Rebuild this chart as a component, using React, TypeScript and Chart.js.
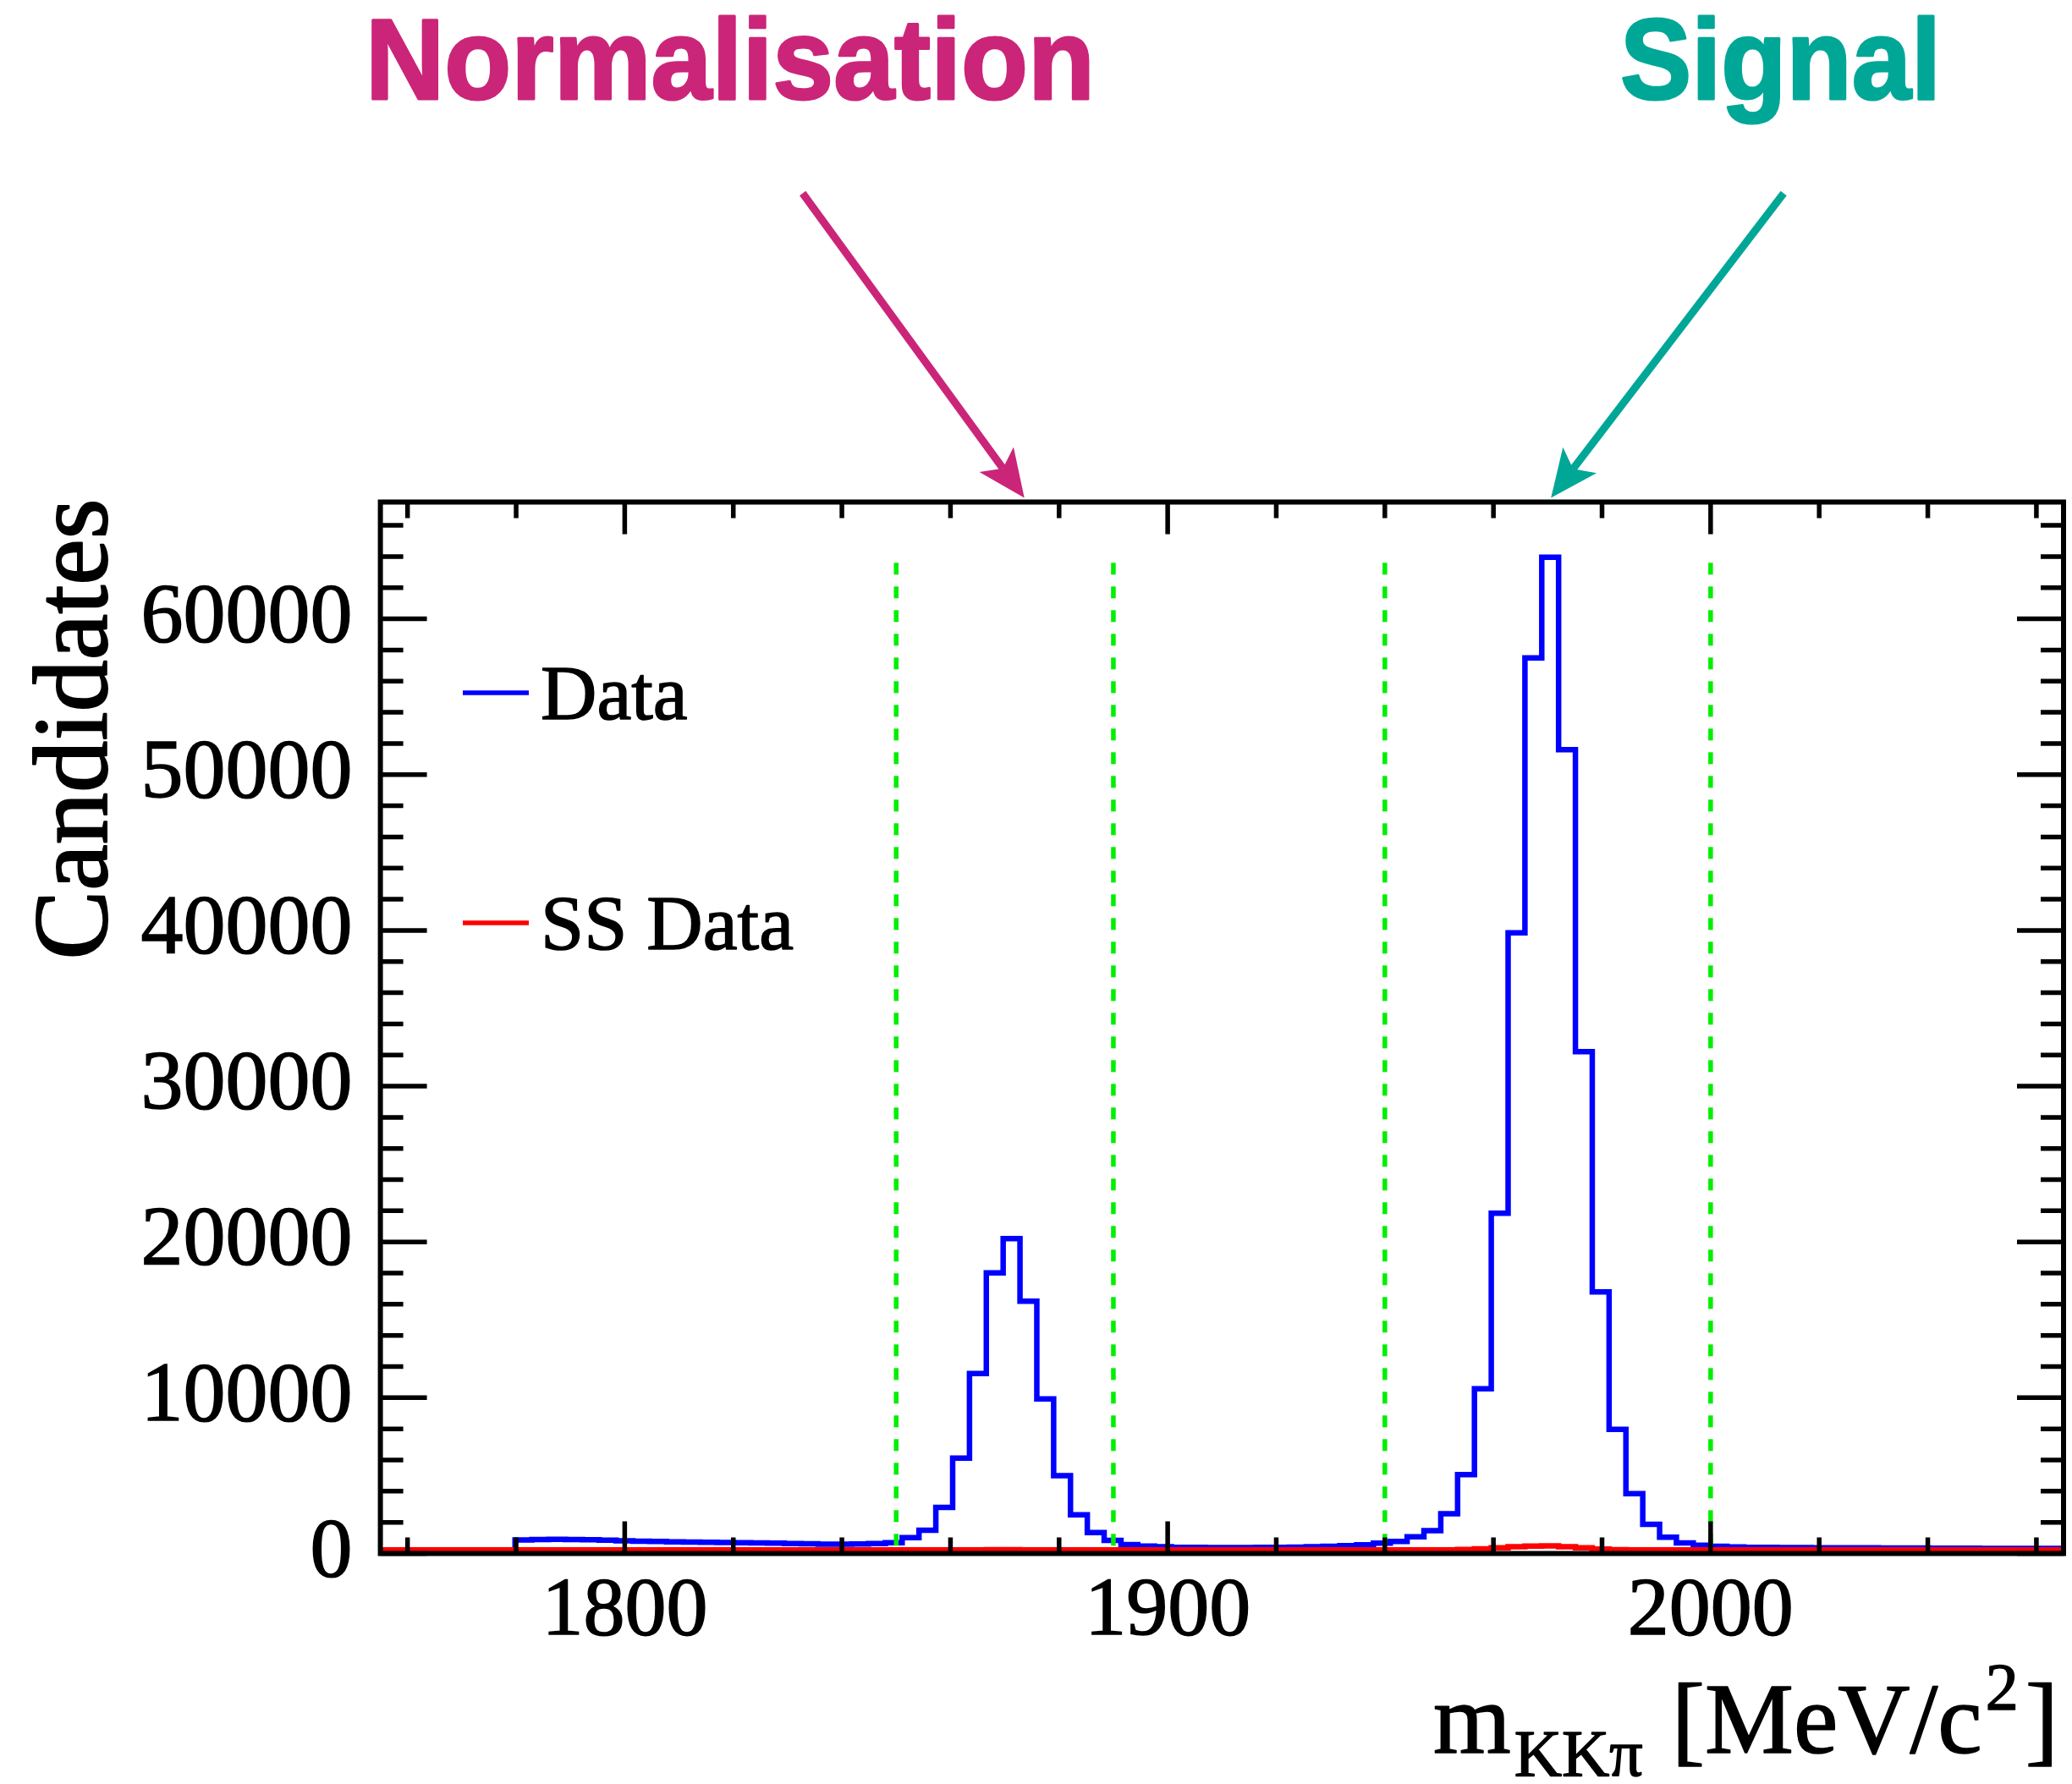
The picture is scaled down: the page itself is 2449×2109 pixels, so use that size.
import React, { useEffect, useRef } from "react";
import { Chart, registerables } from "chart.js";

Chart.register(...registerables);

const W = 2449;
const H = 2109;

// Histogram binning: 100 bins of 3.1 MeV/c^2 from 1755 to 2065
const BIN_LOW = 1755;
const BIN_WIDTH = 3.1;
const X_MIN = 1755;
const X_MAX = 2065;
const Y_MIN = 0;
const Y_MAX = 67500;

const X_TICKS = [1800, 1900, 2000];
const Y_TICKS = [0, 10000, 20000, 30000, 40000, 50000, 60000];
const X_MINOR_STEP = 20;
const X_MAJOR_STEP = 100;
const Y_MINOR_STEP = 2000;
const Y_MAJOR_STEP = 10000;

// Opposite-sign candidates per bin
const DATA_COUNTS = [
  0, 0, 0, 0, 0, 0, 0, 0,
  870, 900, 910, 900, 880, 850, 820, 790,
  770, 750, 730, 720, 700, 690, 680, 660,
  640, 620, 600, 600, 610, 640, 690, 1020,
  1490, 2960, 6120, 11550, 18020, 20220, 16200, 9930,
  5000, 2480, 1340, 840, 570, 480, 430, 400,
  390, 380, 380, 380, 390, 400, 410, 430,
  460, 500, 560, 660, 770, 1070, 1470, 2550,
  5070, 10580, 21850, 39850, 57500, 63950, 51600, 32220,
  16790, 7970, 3840, 1880, 1040, 680, 530, 460,
  420, 400, 390, 380, 380, 370, 370, 360,
  360, 350, 350, 350, 340, 340, 340, 330,
  330, 330, 320, 320,
];

// Same-sign candidates per bin
const SS_COUNTS = [
  230, 230, 230, 230, 230, 230, 230, 230,
  230, 230, 230, 230, 230, 230, 230, 230,
  230, 230, 230, 230, 230, 230, 230, 230,
  230, 230, 230, 230, 230, 230, 230, 230,
  230, 230, 230, 230, 240, 240, 230, 230,
  230, 230, 230, 230, 230, 230, 230, 230,
  230, 230, 230, 230, 230, 230, 230, 230,
  230, 230, 230, 230, 230, 230, 230, 230,
  260, 300, 360, 430, 480, 490, 440, 360,
  290, 250, 230, 230, 230, 230, 230, 230,
  230, 230, 230, 230, 230, 230, 230, 230,
  230, 230, 230, 230, 230, 230, 230, 230,
  230, 230, 230, 230,
];

// Mass window boundaries
const CUT_LINES = [1850, 1890, 1940, 2000];
const CUT_TOP = 63600;

// Annotation labels and where their arrows point on the mass axis
const ANNOTATION_LABELS = ["Normalisation", "Signal"];
const ANNOTATION_COLORS = ["#CB2579", "#00A797"];
const ARROW_TIPS = [1873.6, 1970.6];

const SERIF = "'Liberation Serif', 'Times New Roman', serif";
const SANS = "'Liberation Sans', Arial, Helvetica, sans-serif";

function toSteps(counts: number[]) {
  const pts = counts.map((c, i) => ({ x: BIN_LOW + i * BIN_WIDTH, y: c }));
  pts.push({ x: BIN_LOW + counts.length * BIN_WIDTH, y: counts[counts.length - 1] });
  return pts;
}

function drawArrow(
  ctx: CanvasRenderingContext2D,
  x0: number,
  y0: number,
  x1: number,
  y1: number,
  color: string
) {
  const dx = x1 - x0;
  const dy = y1 - y0;
  const len = Math.hypot(dx, dy);
  const ux = dx / len;
  const uy = dy / len;
  const px = -uy;
  const py = ux;
  const headLen = 56;
  const headHalf = 25;
  const notch = 13;
  const bx = x1 - ux * headLen;
  const by = y1 - uy * headLen;
  ctx.save();
  ctx.strokeStyle = color;
  ctx.fillStyle = color;
  ctx.lineWidth = 9;
  ctx.lineCap = "butt";
  ctx.beginPath();
  ctx.moveTo(x0, y0);
  ctx.lineTo(bx + ux * notch, by + uy * notch);
  ctx.stroke();
  ctx.beginPath();
  ctx.moveTo(x1, y1);
  ctx.lineTo(bx + px * headHalf, by + py * headHalf);
  ctx.lineTo(bx + ux * notch, by + uy * notch);
  ctx.lineTo(bx - px * headHalf, by - py * headHalf);
  ctx.closePath();
  ctx.fill();
  ctx.restore();
}

function heavyText(ctx: CanvasRenderingContext2D, t: string, x: number, y: number, stroke: number, maxW?: number) {
  ctx.lineWidth = stroke;
  ctx.lineJoin = "round";
  if (maxW !== undefined) {
    ctx.fillText(t, x, y, maxW);
    if (stroke > 0) ctx.strokeText(t, x, y, maxW);
  } else {
    ctx.fillText(t, x, y);
    if (stroke > 0) ctx.strokeText(t, x, y);
  }
}

const framePlugin = {
  id: "rootFrame",
  afterDatasetsDraw(chart: any) {
    const { ctx, chartArea } = chart;
    const xs = chart.scales.x;
    const ys = chart.scales.y;
    const { left, right, top, bottom } = chartArea;
    ctx.save();
    ctx.strokeStyle = "#000";
    ctx.lineWidth = 5.5;
    ctx.lineCap = "butt";
    // ticks on all four sides, pointing inwards
    for (let v = Math.ceil(X_MIN / X_MINOR_STEP) * X_MINOR_STEP; v <= X_MAX; v += X_MINOR_STEP) {
      const px = xs.getPixelForValue(v);
      const len = v % X_MAJOR_STEP === 0 ? 38 : 19;
      ctx.beginPath();
      ctx.moveTo(px, bottom);
      ctx.lineTo(px, bottom - len);
      ctx.moveTo(px, top);
      ctx.lineTo(px, top + len);
      ctx.stroke();
    }
    for (let v = Y_MIN; v <= Y_MAX; v += Y_MINOR_STEP) {
      const py = ys.getPixelForValue(v);
      const len = v % Y_MAJOR_STEP === 0 ? 55 : 27;
      ctx.beginPath();
      ctx.moveTo(left, py);
      ctx.lineTo(left + len, py);
      ctx.moveTo(right, py);
      ctx.lineTo(right - len, py);
      ctx.stroke();
    }
    ctx.lineWidth = 6;
    ctx.strokeRect(left, top, right - left, bottom - top);
    ctx.restore();
  },
  afterDraw(chart: any) {
    const { ctx, chartArea } = chart;
    const xs = chart.scales.x;
    ctx.save();

    // y-axis title, aligned with the top of the frame
    ctx.fillStyle = "#000";
    ctx.strokeStyle = "#000";
    ctx.font = `124px ${SERIF}`;
    ctx.textBaseline = "alphabetic";
    ctx.translate(126, chartArea.top - 4);
    ctx.rotate(-Math.PI / 2);
    ctx.textAlign = "right";
    heavyText(ctx, "Candidates", 0, 0, 2, 545);
    ctx.setTransform(1, 0, 0, 1, 0, 0);

    // x-axis title with sub- and superscripts
    const pieces = [
      { t: "m", size: 118, dy: 0, gap: 4 },
      { t: "KK\u03c0", size: 78, dy: 27, gap: 34 },
      { t: "[MeV/c", size: 118, dy: 0, gap: 4 },
      { t: "2", size: 78, dy: -52, gap: 8 },
      { t: "]", size: 118, dy: 0, gap: 0 },
    ];
    let total = 0;
    const widths = pieces.map((p) => {
      ctx.font = `${p.size}px ${SERIF}`;
      const w = ctx.measureText(p.t).width;
      total += w + p.gap;
      return w;
    });
    let cx = chartArea.right - 6 - total;
    const base = 2072;
    ctx.textAlign = "left";
    pieces.forEach((p, i) => {
      ctx.font = `${p.size}px ${SERIF}`;
      heavyText(ctx, p.t, cx, base + p.dy, 1.5);
      cx += widths[i] + p.gap;
    });

    // legend
    const legendRows = [
      { ds: chart.data.datasets[0], y: 819 },
      { ds: chart.data.datasets[1], y: 1091 },
    ];
    legendRows.forEach((row) => {
      ctx.strokeStyle = row.ds.borderColor;
      ctx.lineWidth = 5.5;
      ctx.beginPath();
      ctx.moveTo(547, row.y);
      ctx.lineTo(625, row.y);
      ctx.stroke();
      ctx.fillStyle = "#000";
      ctx.strokeStyle = "#000";
      ctx.font = `92px ${SERIF}`;
      ctx.textAlign = "left";
      ctx.textBaseline = "alphabetic";
      heavyText(ctx, row.ds.label, 639, row.y + 31, 1.5);
    });

    // annotation labels and arrows
    ctx.font = `bold 136px ${SANS}`;
    ctx.textAlign = "left";
    ctx.fillStyle = ANNOTATION_COLORS[0];
    ctx.strokeStyle = ANNOTATION_COLORS[0];
    heavyText(ctx, ANNOTATION_LABELS[0], 432, 117, 3, 862);
    ctx.fillStyle = ANNOTATION_COLORS[1];
    ctx.strokeStyle = ANNOTATION_COLORS[1];
    heavyText(ctx, ANNOTATION_LABELS[1], 1915, 117, 3, 379);

    const tipY = chartArea.top - 5;
    const t0 = xs.getPixelForValue(ARROW_TIPS[0]);
    const t1 = xs.getPixelForValue(ARROW_TIPS[1]);
    drawArrow(ctx, t0 - 262, tipY - 360, t0, tipY, ANNOTATION_COLORS[0]);
    drawArrow(ctx, t1 + 275, tipY - 360, t1, tipY, ANNOTATION_COLORS[1]);

    ctx.restore();
  },
};

export default function App() {
  const ref = useRef<HTMLCanvasElement>(null);

  useEffect(() => {
    document.body.style.margin = "0";
    const canvas = ref.current;
    if (!canvas) return;

    const cutSets = CUT_LINES.map((x) => ({
      label: `cut ${x}`,
      data: [
        { x, y: CUT_TOP },
        { x, y: 0 },
      ],
      borderColor: "#00ee00",
      borderWidth: 5.5,
      borderDash: [14, 14],
      pointRadius: 0,
      fill: false,
      order: 1,
    }));

    const chart = new Chart(canvas, {
      type: "line",
      data: {
        datasets: [
          {
            label: "Data",
            data: toSteps(DATA_COUNTS),
            borderColor: "#0000ff",
            borderWidth: 6.5,
            stepped: "before",
            pointRadius: 0,
            fill: false,
            borderJoinStyle: "miter",
            order: 3,
          },
          {
            label: "SS Data",
            data: toSteps(SS_COUNTS),
            borderColor: "#ff0000",
            borderWidth: 6.5,
            stepped: "before",
            pointRadius: 0,
            fill: false,
            borderJoinStyle: "miter",
            order: 2,
          },
          ...cutSets,
        ] as any,
      },
      options: {
        animation: false,
        responsive: false,
        devicePixelRatio: 1,
        layout: { padding: { left: 0, right: 10, top: 593.5, bottom: 72.5 } },
        plugins: {
          legend: { display: false },
          tooltip: { enabled: false },
        },
        scales: {
          x: {
            type: "linear",
            min: X_MIN,
            max: X_MAX,
            grid: { display: false, drawTicks: false },
            border: { display: false },
            afterBuildTicks: (scale: any) => {
              scale.ticks = X_TICKS.map((v) => ({ value: v }));
            },
            afterFit: (scale: any) => {
              scale.height = 200;
            },
            ticks: {
              autoSkip: false,
              maxRotation: 0,
              padding: 11,
              color: "#000",
              textStrokeColor: "#000",
              textStrokeWidth: 1.5,
              font: { family: SERIF, size: 98 },
              callback: (v: any) => String(v),
            },
          },
          y: {
            type: "linear",
            min: Y_MIN,
            max: Y_MAX,
            grid: { display: false, drawTicks: false },
            border: { display: false },
            afterBuildTicks: (scale: any) => {
              scale.ticks = Y_TICKS.map((v) => ({ value: v }));
            },
            afterFit: (scale: any) => {
              scale.width = 449.6;
            },
            ticks: {
              autoSkip: false,
              padding: 33,
              color: "#000",
              textStrokeColor: "#000",
              textStrokeWidth: 1.5,
              font: { family: SERIF, size: 100 },
              callback: (v: any) => String(v),
            },
          },
        },
      },
      plugins: [framePlugin],
    });

    return () => chart.destroy();
  }, []);

  return (
    <div style={{ position: "absolute", left: 0, top: 0, width: W, height: H, background: "#fff" }}>
      <canvas ref={ref} width={W} height={H} style={{ display: "block", width: W, height: H }} />
    </div>
  );
}
